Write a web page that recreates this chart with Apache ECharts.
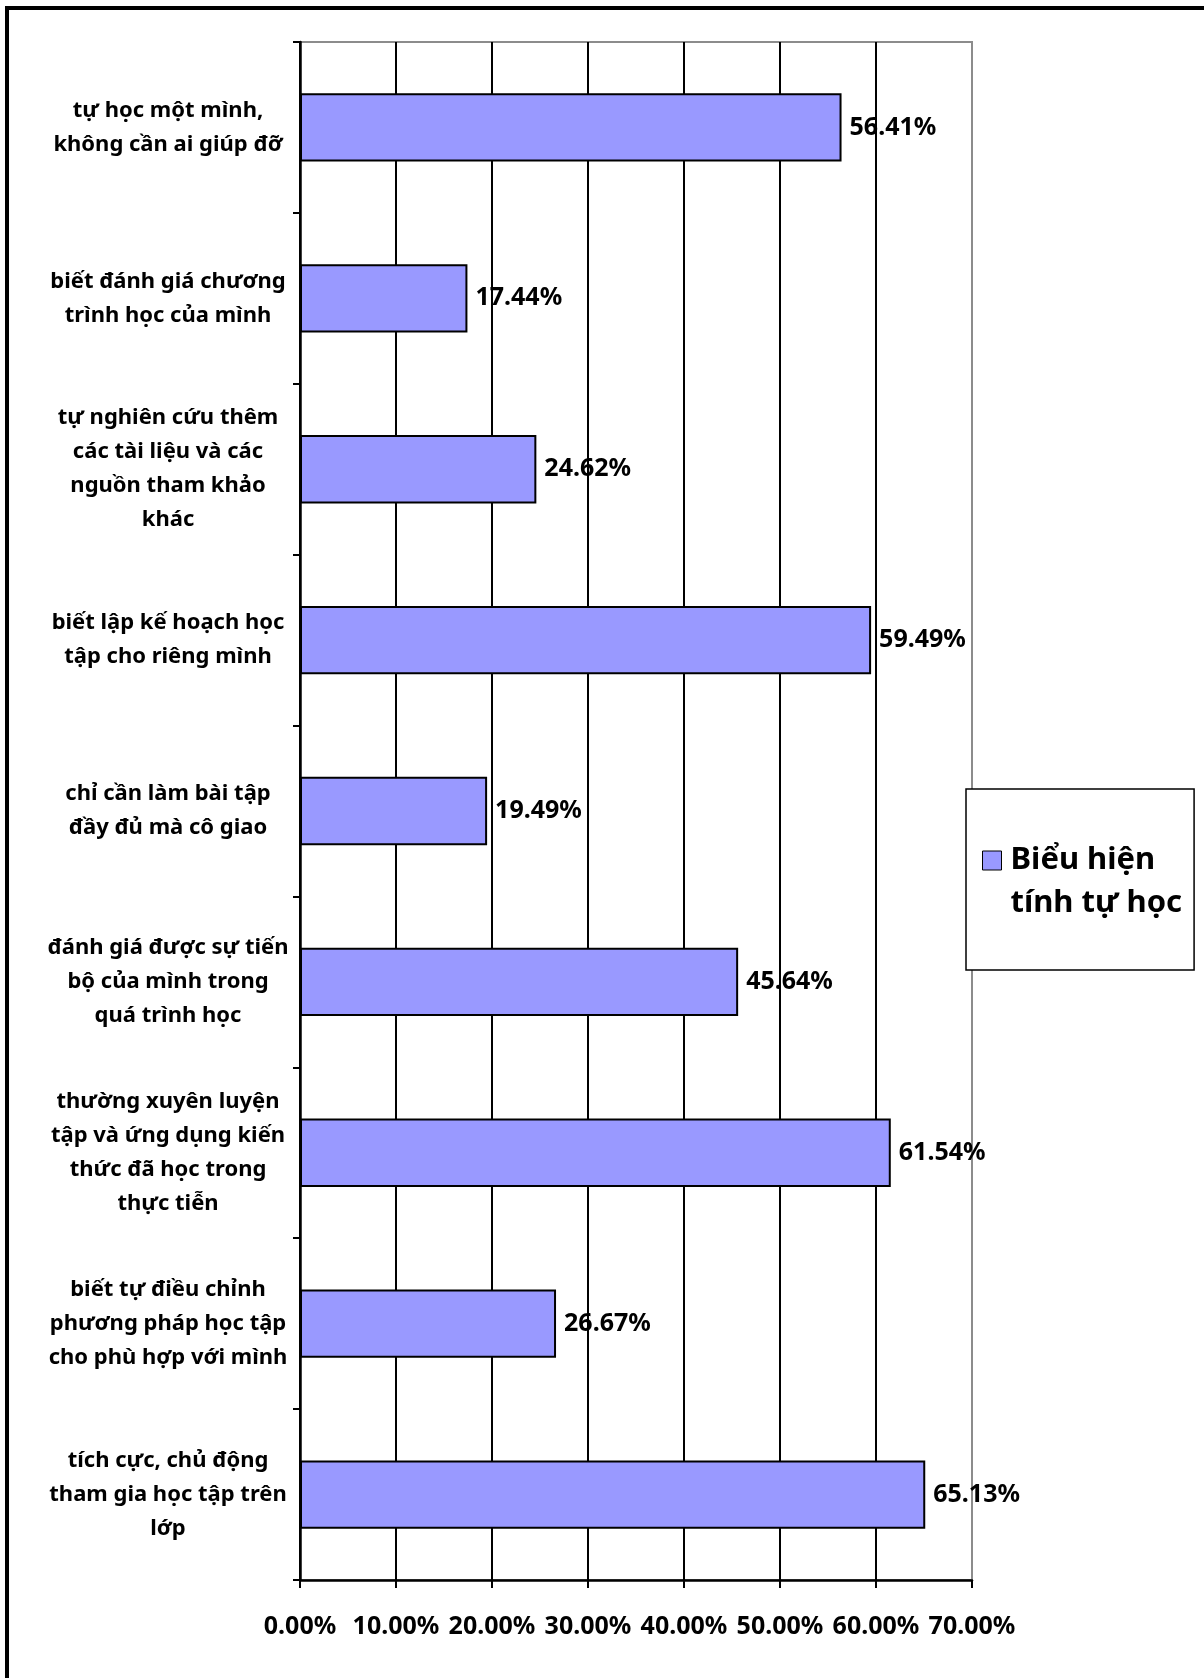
<!DOCTYPE html>
<html>
<head>
<meta charset="utf-8">
<script src="https://cdn.jsdelivr.net/npm/echarts@6/dist/echarts.min.js"></script>
<style>
  html, body { margin: 0; padding: 0; background: #fff; overflow: hidden; }
  #frame { position: absolute; left: 5px; top: 6px; width: 1300px; height: 1800px; border: 4px solid #000; }
  #main { position: absolute; left: 0; top: 0; width: 1204px; height: 1678px; }
</style>
</head>
<body>
<div id="frame"></div>
<div id="main"></div>
<script>
// du lieu doc tu hinh
const categories = [
  'tự học một mình,\nkhông cần ai giúp đỡ',
  'biết đánh giá chương\ntrình học của mình',
  'tự nghiên cứu thêm\ncác tài liệu và các\nnguồn tham khảo\nkhác',
  'biết lập kế hoạch học\ntập cho riêng mình',
  'chỉ cần làm bài tập\nđầy đủ mà cô giao',
  'đánh giá được sự tiến\nbộ của mình trong\nquá trình học',
  'thường xuyên luyện\ntập và ứng dụng kiến\nthức đã học trong\nthực tiễn',
  'biết tự điều chỉnh\nphương pháp học tập\ncho phù hợp với mình',
  'tích cực, chủ động\ntham gia học tập trên\nlớp'
]
const values = [56.41, 17.44, 24.62, 59.49, 19.49, 45.64, 61.54, 26.67, 65.13]
const seriesName = 'Biểu hiện\ntính tự học'

const FONT = '"Noto Sans", "DejaVu Sans", sans-serif'

let chart = echarts.init(document.getElementById('main'), null, { renderer: 'canvas' })

let option = {
  backgroundColor: 'transparent',
  textStyle: { fontFamily: FONT },
  grid: {
    left: 300,
    right: 232,
    top: 42,
    bottom: 98,
    show: true,
    borderColor: '#8c8c8c',
    borderWidth: 2,
    backgroundColor: 'transparent'
  },
  legend: {
    left: 966,
    top: 789,
    orient: 'vertical',
    backgroundColor: '#fff',
    borderColor: '#000',
    borderWidth: 1.5,
    borderRadius: 0,
    padding: [50, 12, 45, 16],
    itemWidth: 19,
    itemHeight: 62,
    itemGap: 0,
    icon: 'path://M0,0h19v19h-19Z M0,62',
    itemStyle: { borderColor: '#000', borderWidth: 1 },
    textStyle: {
      fontFamily: FONT,
      fontWeight: 'bold',
      fontSize: 31,
      lineHeight: 43,
      color: '#000',
      padding: [0, 0, 0, 4]
    },
    data: [seriesName]
  },
  xAxis: {
    type: 'value',
    min: 0,
    max: 70,
    interval: 10,
    axisLine: { show: true, lineStyle: { color: '#000', width: 2.5 } },
    axisTick: { show: true, length: 8, lineStyle: { color: '#000', width: 2 } },
    splitLine: { show: true, showMaxLine: false, lineStyle: { color: '#000', width: 2 } },
    axisLabel: {
      margin: 34,
      fontFamily: FONT,
      fontWeight: 'bold',
      fontSize: 25,
      color: '#000',
      formatter: v => v.toFixed(2) + '%'
    }
  },
  yAxis: {
    type: 'category',
    inverse: true,
    data: categories,
    axisLine: { show: true, lineStyle: { color: '#000', width: 2.5 } },
    axisTick: { show: true, length: 7, lineStyle: { color: '#000', width: 2 } },
    axisLabel: {
      margin: 132,
      align: 'center',
      fontFamily: FONT,
      fontWeight: 'bold',
      fontSize: 22,
      lineHeight: 34,
      color: '#000'
    }
  },
  series: [{
    name: seriesName,
    type: 'bar',
    data: values,
    barCategoryGap: '60%',
    itemStyle: { color: '#9999ff', borderColor: '#000', borderWidth: 2 },
    label: {
      show: true,
      position: 'right',
      distance: 8,
      fontFamily: FONT,
      fontWeight: 'bold',
      fontSize: 25,
      color: '#000',
      formatter: p => p.value.toFixed(2) + '%'
    },
    emphasis: { disabled: true }
  }]
}
chart.setOption(option)
</script>
</body>
</html>
